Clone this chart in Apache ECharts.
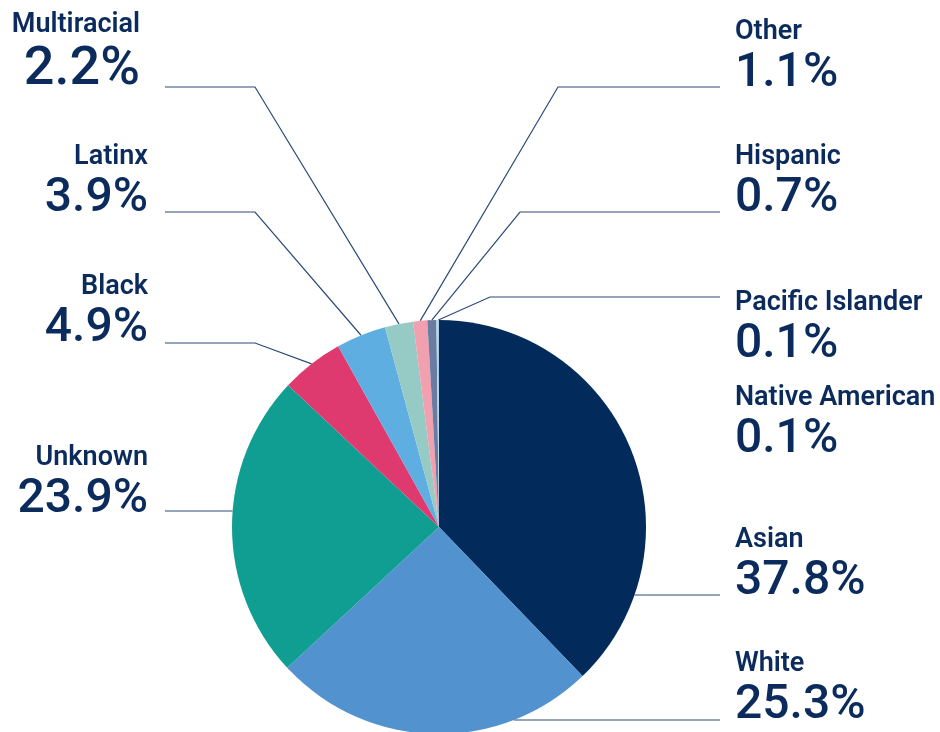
<!DOCTYPE html>
<html>
<head>
<meta charset="utf-8">
<script src="https://cdn.jsdelivr.net/npm/echarts@6/dist/echarts.min.js"></script>
<style>
html,body{margin:0;padding:0;background:#fff;}
#chart{width:940px;height:732px;}
</style>
</head>
<body>
<div id="chart"></div>
<script>
// ---- data ----
const categories = ['Asian','White','Unknown','Black','Latinx','Multiracial','Other','Hispanic','Native American','Pacific Islander'];
const values = [37.8, 25.3, 23.9, 4.9, 3.9, 2.2, 1.1, 0.7, 0.1, 0.1];
const valueLabels = ['37.8%','25.3%','23.9%','4.9%','3.9%','2.2%','1.1%','0.7%','0.1%','0.1%'];
const colors = ['#022b5c','#5292cf','#119e92','#de3a70','#5eaee2','#96cac4','#f0a0ae','#6a7ca2','#b2d4ec','#a6c8e2'];

// ---- layout (positions of label blocks, not data) ----
const CX = 439, CY = 527, R = 207;
const TEXT = '#0b2b5c', LINE = '#2c4a78';
const layoutCfg = {
  'Multiracial':      {side:'L', x:140, top:15,  ly:87,  ex:255, end:'mid', big:true},
  'Latinx':           {side:'L', x:148, top:147, ly:212, ex:255, end:'mid'},
  'Black':            {side:'L', x:148, top:277, ly:343, ex:255, end:'mid'},
  'Unknown':          {side:'L', x:148, top:448, ly:511, end:'edge'},
  'Other':            {side:'R', x:735, top:22,  ly:87,  ex:558, end:'mid'},
  'Hispanic':         {side:'R', x:735, top:147, ly:212, ex:520, end:'mid'},
  'Pacific Islander': {side:'R', x:735, top:293, ly:297, ex:490, end:'mid'},
  'Native American':  {side:'R', x:735, top:388, end:'none'},
  'Asian':            {side:'R', x:735, top:530, ly:595, end:'edge'},
  'White':            {side:'R', x:735, top:654, ly:720, end:'edge'}
};
const CAP_OFFSET = 6;

const total = values.reduce((a,b)=>a+b,0);
const cum = [];
values.reduce((acc,v,i)=>{cum.push(acc + v/2); return acc+v;},0);

function midPoint(i){
  const t = 2*Math.PI*cum[i]/total;
  return [CX + R*Math.sin(t), CY - R*Math.cos(t)];
}

const data = categories.map((c,i)=>{
  const cfg = layoutCfg[c];
  return {
    name: c,
    value: values[i],
    itemStyle: {color: colors[i]},
    label: {
      formatter: cfg.big ? '{n|' + c + '}\n{vb|' + valueLabels[i] + '}' : '{n|' + c + '}\n{v|' + valueLabels[i] + '}'
    },
    labelLine: {show: cfg.end !== 'none'}
  };
});

const chart = echarts.init(document.getElementById('chart'), null, {renderer:'canvas'});
chart.setOption({
  animation: false,
  backgroundColor: '#ffffff',
  series: [{
    type: 'pie',
    center: [CX, CY],
    radius: R,
    startAngle: 90,
    clockwise: true,
    avoidLabelOverlap: false,
    silent: true,
    itemStyle: {borderWidth: 0},
    label: {
      show: true,
      position: 'outside',
      color: TEXT,
      fontFamily: 'Roboto',
      rich: {
        n: {fontSize: 27, fontWeight: 600, fontFamily: 'Roboto', color: TEXT, lineHeight: 32},
        v: {fontSize: 48, fontWeight: 500, fontFamily: 'Roboto', color: TEXT, lineHeight: 52},
        vb: {fontSize: 54, fontWeight: 500, fontFamily: 'Roboto', color: TEXT, lineHeight: 58}
      }
    },
    labelLine: {show: true, length: 10, length2: 10, smooth: false, lineStyle: {color: LINE, width: 1.2}},
    labelLayout: function(p){
      const c = categories[p.dataIndex];
      const cfg = layoutCfg[c];
      const out = {
        x: cfg.x,
        y: cfg.top - CAP_OFFSET,
        align: cfg.side === 'L' ? 'right' : 'left',
        verticalAlign: 'top'
      };
      if (cfg.end === 'mid') {
        const sx = cfg.side === 'L' ? 165 : 720;
        out.labelLinePoints = [[sx, cfg.ly],[cfg.ex, cfg.ly], midPoint(p.dataIndex)];
      } else if (cfg.end === 'edge') {
        const dx = Math.sqrt(R*R - (cfg.ly-CY)*(cfg.ly-CY));
        const sx = cfg.side === 'L' ? 165 : 720;
        const exx = cfg.side === 'L' ? CX - dx : CX + dx;
        out.labelLinePoints = [[sx, cfg.ly],[(sx+exx)/2, cfg.ly],[exx, cfg.ly]];
      }
      return out;
    },
    data: data
  }]
});
</script>
</body>
</html>
